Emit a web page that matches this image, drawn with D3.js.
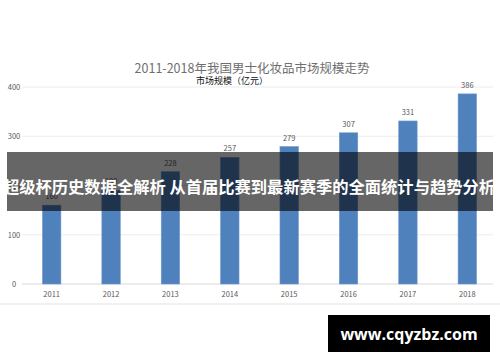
<!DOCTYPE html>
<html><head><meta charset="utf-8">
<script src="https://cdn.jsdelivr.net/npm/d3@7"></script>
<style>body{margin:0;background:#fff}svg{display:block}</style>
</head><body><svg id="c" width="500" height="362"></svg>
<script>
const years = ["2011","2012","2013","2014","2015","2016","2017","2018"];
const values = [160, 190, 228, 257, 279, 307, 331, 386];
const yTicks = [0, 100, 200, 300, 400];
const titleText = "2011-2018年我国男士化妆品市场规模走势";
const subtitleText = "市场规模（亿元）";
const bannerText = "超级杯历史数据全解析 从首届比赛到最新赛季的全面统计与趋势分析";
const watermarkText = "www.cqyzbz.com";

const svg = d3.select("#c");
const font = "'Microsoft YaHei','Noto Sans CJK SC','Noto Sans',sans-serif";
const x = d3.scaleBand().domain(years).range([22, 497]).paddingInner(0.69).paddingOuter(0.345);
const y = d3.scaleLinear().domain([0, 400]).range([284, 87]);

// grid
svg.append("g").selectAll("line").data(yTicks).join("line")
  .attr("x1", 22).attr("x2", 493).attr("y1", d => y(d)).attr("y2", d => y(d))
  .attr("stroke", d => d === 0 ? "#d9d9d9" : "#ececec").attr("stroke-width", 1);
svg.append("g").selectAll("text").data(yTicks).join("text")
  .attr("x", 14).attr("y", d => y(d) + 3).attr("text-anchor", "middle")
  .attr("font-family", font).attr("font-size", 7.5).attr("fill", "#595959").text(d => d);

// bars
svg.append("g").selectAll("rect").data(values).join("rect")
  .attr("x", (d, i) => x(years[i])).attr("width", x.bandwidth())
  .attr("y", d => y(d)).attr("height", d => y(0) - y(d))
  .attr("fill", "#4f81bd").attr("stroke", "#6f97c9").attr("stroke-width", 0.6);
svg.append("g").selectAll("text").data(values).join("text")
  .attr("x", (d, i) => x(years[i]) + x.bandwidth() / 2).attr("y", d => y(d) - 6)
  .attr("text-anchor", "middle").attr("font-family", font).attr("font-size", 7.5)
  .attr("fill", "#595959").text(d => d);

// x axis labels
svg.append("g").selectAll("text").data(years).join("text")
  .attr("x", d => x(d) + x.bandwidth() / 2).attr("y", 297).attr("text-anchor", "middle")
  .attr("font-family", font).attr("font-size", 7.5).attr("fill", "#595959").text(d => d);

// chart border bottom
svg.append("line").attr("x1", 0).attr("x2", 500).attr("y1", 304).attr("y2", 304)
  .attr("stroke", "#e3e3e3");

// title
svg.append("text").attr("x", 252).attr("y", 73).attr("text-anchor", "middle")
  .attr("font-family", font).attr("font-size", 12.5).attr("fill", "#6e6e6e").text(titleText);
svg.append("text").attr("x", 232).attr("y", 84).attr("text-anchor", "middle")
  .attr("font-family", font).attr("font-size", 9).attr("fill", "#111").text(subtitleText);

// banner
svg.append("rect").attr("x", 7).attr("y", 152).attr("width", 486).attr("height", 59)
  .attr("fill", "rgba(0,0,0,0.6)");
svg.append("text").attr("x", 249).attr("y", 193).attr("text-anchor", "middle")
  .attr("font-family", font).attr("font-size", 16.3).attr("font-weight", "bold")
  .attr("fill", "#fff").text(bannerText);

// watermark
svg.append("rect").attr("x", 328).attr("y", 315).attr("width", 162).attr("height", 37).attr("fill", "#000");
svg.append("text").attr("x", 409).attr("y", 340).attr("text-anchor", "middle")
  .attr("font-family", "'Open Sans','DejaVu Sans',sans-serif").attr("font-size", 16).attr("font-weight", "bold")
  .attr("fill", "#fff").text(watermarkText);
</script></body></html>
